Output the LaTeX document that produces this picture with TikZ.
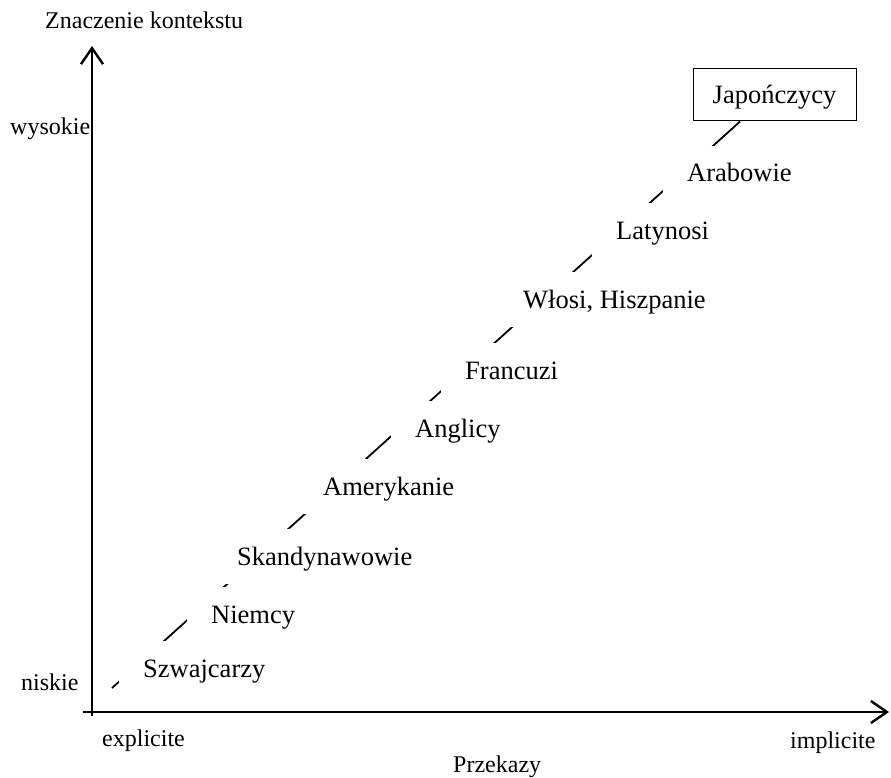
\documentclass[tikz,border=0pt]{standalone}
\usepackage{fontspec}
\setmainfont{Liberation Serif}
\usetikzlibrary{arrows.meta, calc}

\begin{document}
\begin{tikzpicture}[x=1pt,y=-1pt,
  axis/.style={line width=2.4pt, -{Straight Barb[length=16pt,width=22pt]}},
  axislabel/.style={anchor=base west, inner sep=0pt, font=\fontsize{24}{28}\selectfont},
  nation/.style={anchor=base west, fill=white, inner xsep=24pt, inner ysep=18pt,
    text height=18pt, text depth=1pt, font=\fontsize{26.5}{31}\selectfont}]
\useasboundingbox (0,0) rectangle (891,778);
\coordinate (ybot) at (92.0000,716.0000);
\coordinate (ytop) at (92.0000,46.0000);
\coordinate (xleft) at (83.0000,712.0000);
\coordinate (xright) at (889.0000,712.0000);
\draw[axis] (ybot) -- (ytop);
\draw[axis] (xleft) -- (xright);
\node[axislabel] (znaczenie) at (45.0000,29.0000) {Znaczenie kontekstu};
\node[axislabel] (wysokie) at (10.0000,135.0000) {wysokie};
\node[axislabel] (niskie) at (21.0000,690.0000) {niskie};
\node[axislabel] (explicite) at (102.0000,746.0000) {explicite};
\node[axislabel] (implicite) at (790.0000,748.0000) {implicite};
\node[axislabel] (przekazy) at (453.0000,772.0000) {Przekazy};
\node[draw, line width=1pt, minimum width=163pt, minimum height=52pt, inner sep=0pt,
  text height=20pt, text depth=2pt,
  font=\fontsize{26.5}{31}\selectfont] (jap) at (774.5000,95.0000) {Japończycy};
\coordinate (start) at (112.0000,688.0000);
\draw[line width=1.8pt] (start) -- ($(jap.south west)!0.29!(jap.south east)$);
\node[nation] (szwajcarzy) at (119.0000,677.0000) {Szwajcarzy};
\node[nation] (niemcy) at (187.0000,623.0000) {Niemcy};
\node[nation] (skandynawowie) at (213.0000,565.0000) {Skandynawowie};
\node[nation] (amerykanie) at (299.0000,495.0000) {Amerykanie};
\node[nation] (anglicy) at (391.0000,437.0000) {Anglicy};
\node[nation] (francuzi) at (441.0000,379.0000) {Francuzi};
\node[nation] (wlosi) at (499.0000,308.0000) {Włosi, Hiszpanie};
\node[nation] (latynosi) at (592.0000,239.0000) {Latynosi};
\node[nation] (arabowie) at (663.0000,182.0000) {Arabowie};
\end{tikzpicture}
\end{document}
